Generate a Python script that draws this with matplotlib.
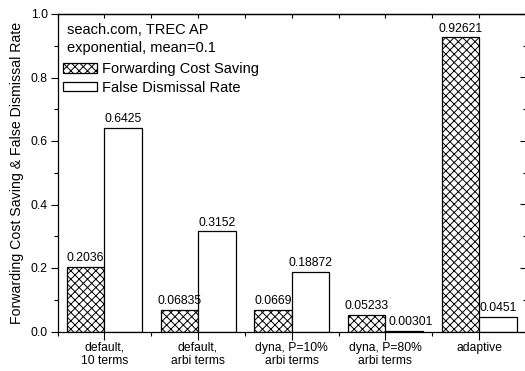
import numpy as np
import matplotlib
matplotlib.use("Agg")
import matplotlib.pyplot as plt
from matplotlib.patches import Patch

plt.rcParams['font.family'] = ['Liberation Sans', 'DejaVu Sans']
plt.rcParams['hatch.linewidth'] = 0.7

# data
categories = ["default,\n10 terms", "default,\narbi terms", "dyna, P=10%\narbi terms",
              "dyna, P=80%\narbi terms", "adaptive"]
cost_saving = [0.2036, 0.06835, 0.0669, 0.05233, 0.92621]
false_dismissal = [0.6425, 0.3152, 0.18872, 0.00301, 0.0451]
cost_labels = ["0.2036", "0.06835", "0.0669", "0.05233", "0.92621"]
fd_labels = ["0.6425", "0.3152", "0.18872", "0.00301", "0.0451"]

x = np.arange(1, len(categories) + 1)
w = 0.4

fig = plt.figure(figsize=(5.25, 3.71), dpi=100)
ax = fig.add_axes([57.5/525, (371-331.5)/371, 468.5/525, 317.5/371])

b1 = ax.bar(x - w/2, cost_saving, w, facecolor='white', edgecolor='black',
            hatch='xxxx', linewidth=0.9)
b2 = ax.bar(x + w/2, false_dismissal, w, facecolor='white', edgecolor='black',
            linewidth=0.9)

for i in range(len(x)):
    ax.annotate(cost_labels[i], (x[i] - w/2, cost_saving[i]), xytext=(0, 2),
                textcoords='offset points', ha='center', va='bottom', fontsize=8.8)
    dx = 5 if false_dismissal[i] < 0.01 else 0
    ax.annotate(fd_labels[i], (x[i] + w/2, false_dismissal[i]), xytext=(dx, 2),
                textcoords='offset points', ha='center', va='bottom', fontsize=8.8)

ax.set_xlim(0.5, 5.5)
ax.set_ylim(0, 1.0)
ax.set_xticks(x)
ax.set_xticklabels(categories, fontsize=8.7, linespacing=1.1)
ax.set_xticks(np.arange(0.5, 6, 1), minor=True)
ax.set_yticks(np.arange(0, 1.01, 0.2))
ax.set_yticklabels(["%.1f" % v for v in np.arange(0, 1.01, 0.2)], fontsize=8.8)
ax.set_yticks(np.arange(0.1, 1.0, 0.2), minor=True)

ax.tick_params(axis='x', which='major', direction='out', length=6, width=0.8, pad=1.5)
ax.tick_params(axis='x', which='minor', direction='out', length=3, width=0.8)
ax.tick_params(axis='y', which='major', direction='out', length=5, width=0.8, pad=2)
ax.tick_params(axis='y', which='minor', direction='out', length=3, width=0.8)

for s in ax.spines.values():
    s.set_linewidth(0.9)

top = ax.secondary_xaxis('top')
top.set_xticks(np.arange(0.5, 6, 0.5))
top.tick_params(direction='in', length=3, width=0.8, labeltop=False)
top.spines['top'].set_linewidth(0.9)

right = ax.secondary_yaxis('right')
right.set_yticks(np.arange(0, 1.01, 0.2))
right.set_yticks(np.arange(0.1, 1.0, 0.2), minor=True)
right.tick_params(which='major', direction='in', length=4, width=0.8, labelright=False)
right.tick_params(which='minor', direction='in', length=2.5, width=0.8)

ax.set_ylabel("Forwarding Cost Saving & False Dismissal Rate", fontsize=10.2, labelpad=5)

ax.text(0.02, 0.9496, "seach.com, TREC AP", transform=ax.transAxes, fontsize=10.5, va='center')
ax.text(0.02, 0.893, "exponential, mean=0.1", transform=ax.transAxes, fontsize=10.5, va='center')

handles = [Patch(facecolor='white', edgecolor='black', hatch='xxxx', linewidth=0.9),
           Patch(facecolor='white', edgecolor='black', linewidth=0.9)]
ax.legend(handles, ["Forwarding Cost Saving", "False Dismissal Rate"], loc='upper left',
          bbox_to_anchor=(5.5/468.5, 1 - 48/317.5), frameon=False, fontsize=10.5,
          borderpad=0, borderaxespad=0, handlelength=2.33, handleheight=0.65,
          handletextpad=0.35, labelspacing=0.32)

fig.savefig("out.png", dpi=100)
